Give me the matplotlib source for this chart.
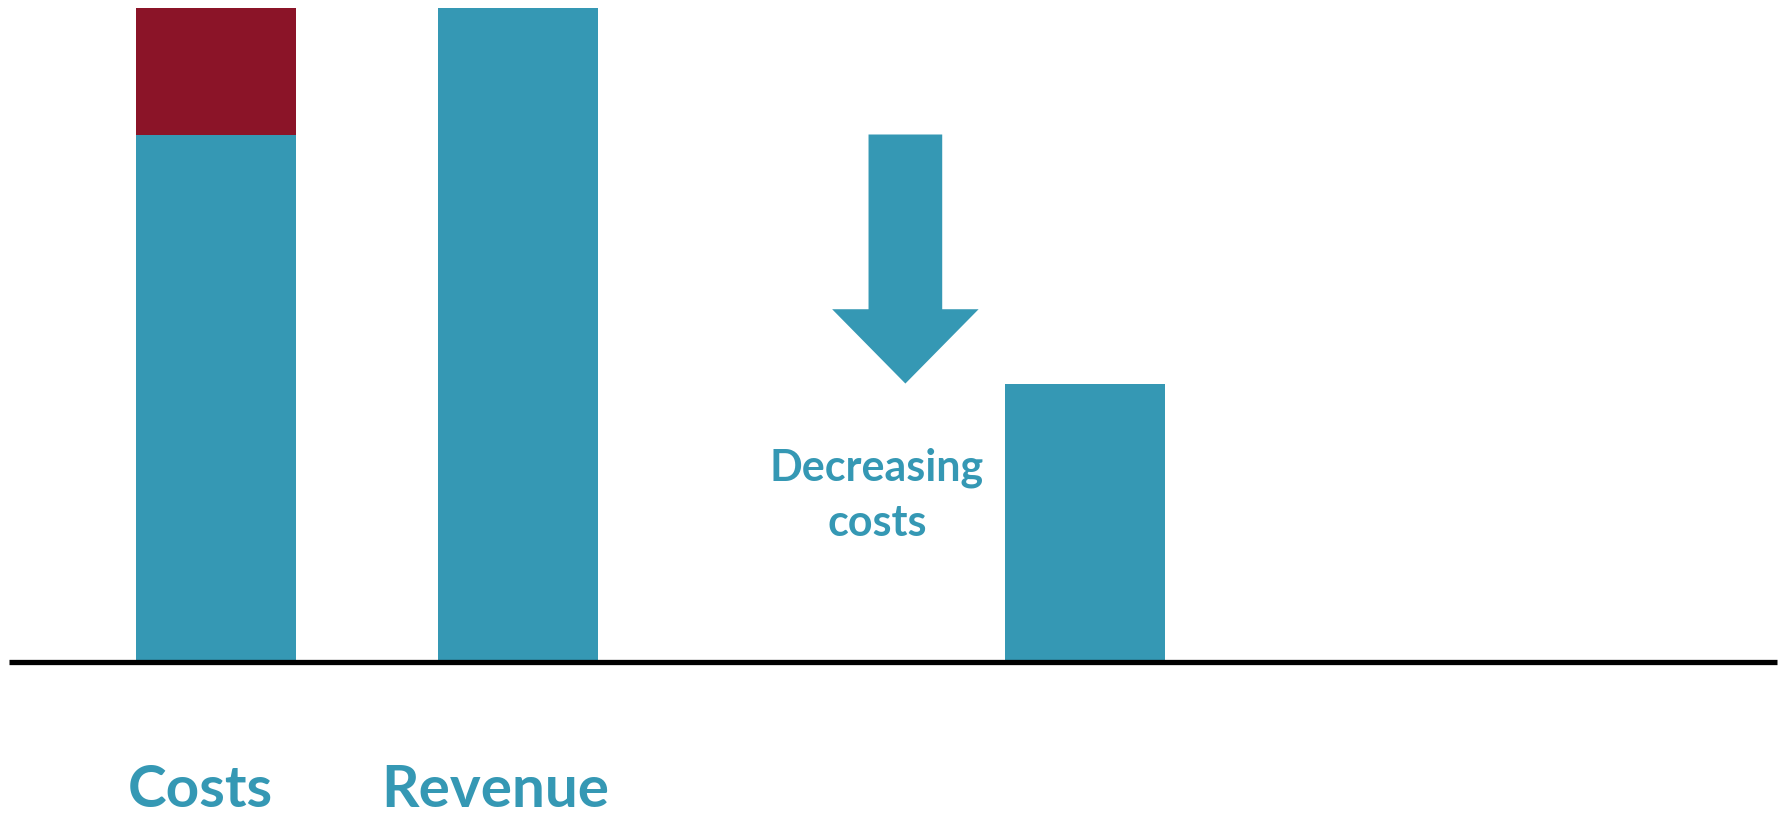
import matplotlib
matplotlib.use("Agg")
import matplotlib.pyplot as plt
from matplotlib.patches import Polygon

# Chart values
categories = ["Costs", "Revenue", ""]
base_costs = [80.6, 0, 42.4]      # teal segment
extra_costs = [19.4, 0, 0]        # red segment stacked on top
revenue = [0, 100, 0]
arrow_label = "Decreasing\ncosts"

TEAL = "#3598b4"
RED = "#8b1428"

positions = [0.0, 1.0, 2.88]
bar_width = 0.53

fig = plt.figure(figsize=(17.89, 8.19), dpi=100)
ax = fig.add_axes([0, 0, 1, 1])
ax.set_xlim(-0.714, 5.21)
ax.set_ylim(-24.39, 101.23)
ax.axis("off")

totals = [b + r for b, r in zip(base_costs, revenue)]
ax.bar(positions, totals, width=bar_width, color=TEAL, linewidth=0)
ax.bar(positions, extra_costs, bottom=base_costs, width=bar_width, color=RED, linewidth=0)

# baseline
ax.plot([-0.685, 5.17], [-0.35, -0.35], color="black", linewidth=3.8, solid_capstyle="butt")

# down arrow from the old cost level to the new one
ax_x = 2.284
shaft_half = 0.122
head_half = 0.2425
head_len = 11.4
top = base_costs[0]
tip = base_costs[2]
neck = tip + head_len
arrow = Polygon([
    (ax_x - shaft_half, top), (ax_x + shaft_half, top),
    (ax_x + shaft_half, neck), (ax_x + head_half, neck),
    (ax_x, tip), (ax_x - head_half, neck),
    (ax_x - shaft_half, neck),
], closed=True, facecolor=TEAL, edgecolor="none")
ax.add_patch(arrow)

ax.text(2.19, 25.3, arrow_label, ha="center", va="center", fontsize=31,
        fontweight="bold", family="Lato", color=TEAL, linespacing=1.45)

label_offsets = [-0.05, -0.075]
for pos, name, off in zip(positions[:2], categories[:2], label_offsets):
    ax.text(pos + off, -22.6, name, ha="center", va="baseline", fontsize=42,
            fontweight="bold", family="Lato", color=TEAL)

fig.savefig("out.png", dpi=100)
